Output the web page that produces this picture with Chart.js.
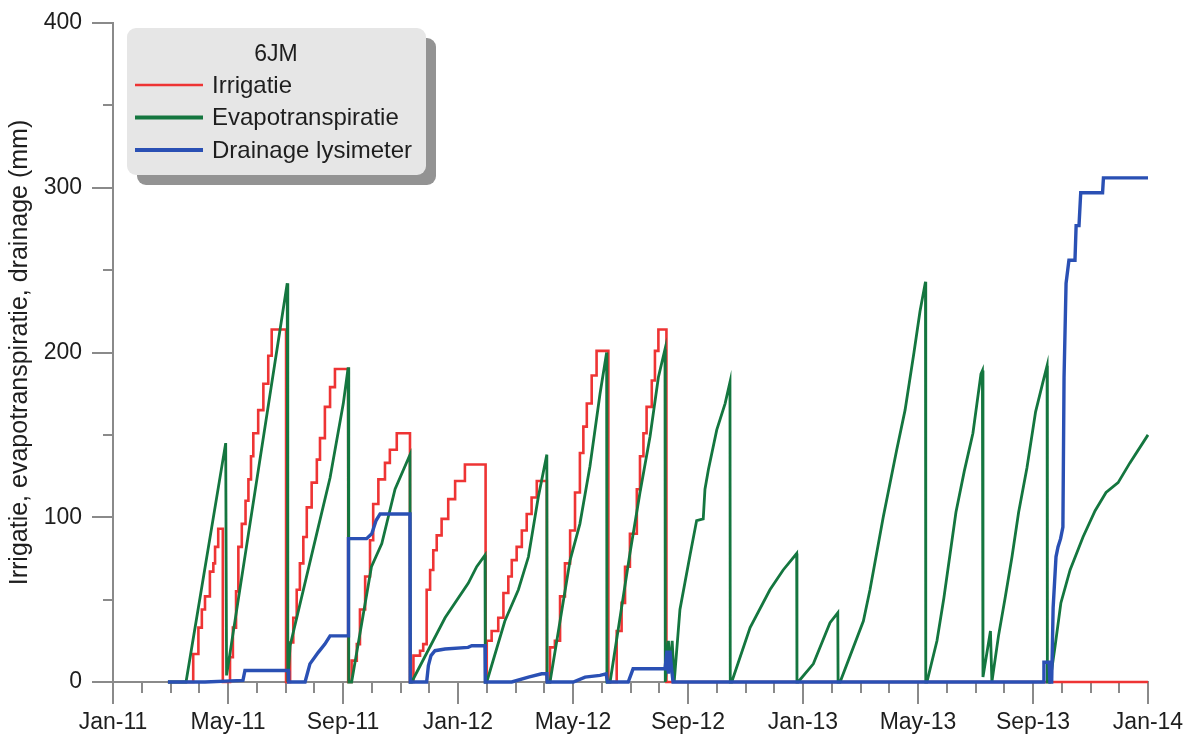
<!DOCTYPE html>
<html>
<head>
<meta charset="utf-8">
<script src="https://cdn.jsdelivr.net/npm/chart.js@4.4.0/dist/chart.umd.min.js"></script>
<style>
  html, body { margin: 0; padding: 0; background: #ffffff; }
  canvas { display: block; }
</style>
</head>
<body>
<canvas id="lysimeter" width="1198" height="744"></canvas>
<script>
// x values are months counted from 1 January 2011; y values are cumulative mm.
const xTickLabels = ['Jan-11', 'May-11', 'Sep-11', 'Jan-12', 'May-12', 'Sep-12', 'Jan-13', 'May-13', 'Sep-13', 'Jan-14'];
const monthsPerLabel = 4;
const yTitle = 'Irrigatie, evapotranspiratie, drainage (mm)';
const legendTitle = '6JM';

// Cumulative irrigation, reset at the end of each period (drawn as steps).
const irrigatie = [
  [1.91, 0], [2.79, 17], [2.97, 33], [3.09, 44], [3.20, 52], [3.37, 67], [3.49, 72], [3.55, 82], [3.66, 93], [3.82, 0],
  [4.07, 15], [4.17, 33], [4.28, 55], [4.36, 82], [4.48, 96], [4.61, 110], [4.71, 123], [4.80, 137], [4.88, 151],
  [5.05, 165], [5.23, 181], [5.40, 198], [5.52, 214], [6.02, 0],
  [6.16, 24], [6.27, 39], [6.39, 56], [6.50, 72], [6.62, 88], [6.74, 106], [6.91, 121], [7.09, 135], [7.20, 148],
  [7.37, 167], [7.55, 179], [7.72, 190], [8.18, 0],
  [8.30, 13], [8.48, 23], [8.59, 44], [8.77, 64], [8.94, 86], [9.05, 108], [9.23, 123], [9.46, 133], [9.63, 141],
  [9.87, 151], [10.33, 0],
  [10.45, 16], [10.68, 19], [10.79, 23], [10.91, 56], [11.03, 68], [11.14, 80], [11.26, 89], [11.43, 99], [11.66, 111],
  [11.90, 122], [12.24, 132], [12.96, 0],
  [13.00, 25], [13.17, 31], [13.40, 39], [13.58, 54], [13.75, 64], [13.87, 74], [14.04, 82], [14.22, 92], [14.39, 102],
  [14.56, 112], [14.74, 122], [15.09, 0],
  [15.20, 21], [15.37, 25], [15.55, 52], [15.72, 72], [15.90, 92], [16.07, 115], [16.24, 139], [16.36, 155], [16.48, 169],
  [16.65, 186], [16.82, 201], [17.23, 0],
  [17.52, 31], [17.69, 48], [17.81, 70], [17.98, 90], [18.22, 117], [18.33, 137], [18.45, 151], [18.56, 167], [18.74, 183],
  [18.85, 201], [18.97, 214], [19.25, 0],
  [36, 0]
];

// Cumulative evapotranspiration per period.
const evapotranspiratie = [
  [1.91, 0], [2.54, 0], [3.92, 145], [3.95, 4], [6.06, 242], [6.08, 0],
  [6.16, 22], [7.14, 94], [7.55, 124], [8.01, 169], [8.18, 191], [8.20, 0],
  [8.30, 0], [8.99, 70], [9.35, 84], [9.81, 117], [10.33, 138], [10.34, 0],
  [10.39, 0], [11.55, 39], [12.36, 60], [12.65, 70], [12.94, 77], [12.95, 0],
  [13.00, 0], [13.63, 37], [14.10, 56], [14.45, 76], [14.79, 112], [15.09, 138], [15.10, 0],
  [15.20, 0], [15.90, 74], [16.24, 96], [16.59, 131], [16.94, 175], [17.17, 200], [17.18, 0],
  [17.29, 0], [17.98, 78], [18.33, 115], [18.68, 149], [18.97, 185], [19.20, 202], [19.21, 0],
  [19.32, 25], [19.37, 8], [19.45, 25], [19.52, 0],
  [19.72, 44], [20.07, 77], [20.30, 98], [20.53, 99], [20.59, 117], [20.71, 129], [21.00, 153], [21.29, 169],
  [21.46, 182], [21.47, 0],
  [21.52, 0], [22.16, 33], [22.85, 56], [23.31, 68], [23.78, 78], [23.79, 0],
  [23.83, 0], [24.36, 11], [24.94, 36], [25.21, 42], [25.22, 0],
  [25.29, 0], [26.10, 37], [26.33, 56], [26.79, 100], [27.26, 141], [27.55, 165], [27.86, 200], [28.07, 225],
  [28.26, 243], [28.27, 0],
  [28.31, 0], [28.66, 25], [28.90, 51], [29.32, 103], [29.61, 128], [29.91, 151], [30.19, 187], [30.24, 189],
  [30.26, 3], [30.52, 31], [30.57, 0],
  [30.80, 28], [31.03, 51], [31.27, 76], [31.50, 103], [31.79, 130], [32.09, 164], [32.33, 181], [32.49, 192], [32.50, 0],
  [32.59, 0], [32.77, 22], [32.97, 48], [33.29, 68], [33.74, 88], [34.16, 104], [34.54, 115], [34.96, 121],
  [35.37, 133], [36, 150]
];

// Cumulative drainage measured in the lysimeter.
const drainage = [
  [1.91, 0], [3.20, 0], [4.52, 1], [4.59, 7], [6.10, 7], [6.11, 0],
  [6.68, 0], [6.85, 11], [7.14, 18], [7.37, 23], [7.55, 28], [8.18, 28], [8.19, 87], [8.82, 87], [9.00, 90],
  [9.15, 98], [9.29, 102], [10.33, 102], [10.34, 0],
  [10.91, 0], [10.97, 10], [11.06, 16], [11.20, 19], [11.55, 20], [12.35, 21], [12.48, 22], [12.94, 22], [12.95, 0],
  [13.87, 0], [14.45, 3], [14.91, 5], [15.09, 5], [15.10, 0],
  [16.01, 0], [16.42, 3], [16.94, 4], [17.15, 5], [17.20, 0],
  [17.92, 0], [18.09, 8], [19.20, 8], [19.27, 19], [19.32, 5], [19.37, 19], [19.43, 8], [19.48, 0],
  [32.35, 0], [32.38, 12], [32.56, 12], [32.59, 0], [32.65, 0], [32.70, 45], [32.80, 76], [32.87, 82],
  [32.96, 87], [33.04, 94], [33.08, 185], [33.15, 242], [33.25, 256], [33.46, 256], [33.50, 277], [33.60, 277],
  [33.66, 297], [34.42, 297], [34.45, 306], [36, 306]
];

const FONT = "'Liberation Sans', Arial, sans-serif";
const TEXT = '#1e1e1e';
const AXIS = '#8a8a8a';
const lastMonth = (xTickLabels.length - 1) * monthsPerLabel;

// Monthly tick marks on the x axis and 50 mm tick marks on the y axis.
const tickMarks = {
  id: 'tickMarks',
  beforeDatasetsDraw(chart) {
    const { ctx, chartArea: a, scales: { x, y } } = chart;
    ctx.save();
    ctx.strokeStyle = AXIS;
    ctx.lineWidth = 2;
    ctx.beginPath();
    for (let m = 0; m <= lastMonth; m++) {
      const px = Math.round(x.getPixelForValue(m));
      const len = m % monthsPerLabel === 0 ? 22 : 11;
      ctx.moveTo(px, a.bottom);
      ctx.lineTo(px, a.bottom + len);
    }
    for (let v = 0; v <= y.max; v += 50) {
      const py = Math.round(y.getPixelForValue(v));
      const len = v % 100 === 0 ? 21 : 10;
      ctx.moveTo(a.left - len, py);
      ctx.lineTo(a.left, py);
    }
    ctx.stroke();
    ctx.restore();
  }
};

// Grey legend card with a drop shadow in the upper-left corner of the plot.
const legendCard = {
  id: 'legendCard',
  afterDraw(chart) {
    const ctx = chart.ctx;
    const bx = 127, by = 28, bw = 299, bh = 147, r = 9;
    ctx.save();
    ctx.fillStyle = '#939393';
    ctx.beginPath();
    ctx.roundRect(bx + 10, by + 10, bw, bh, r);
    ctx.fill();
    ctx.fillStyle = '#e6e6e6';
    ctx.beginPath();
    ctx.roundRect(bx, by, bw, bh, r);
    ctx.fill();

    ctx.fillStyle = TEXT;
    ctx.textBaseline = 'middle';
    ctx.font = '23px ' + FONT;
    ctx.textAlign = 'center';
    ctx.fillText(legendTitle, 276, 55);

    ctx.textAlign = 'left';
    ctx.font = '24px ' + FONT;
    const rows = [85, 117.5, 150];
    const widths = [2.5, 4, 4];
    chart.data.datasets.forEach((ds, i) => {
      ctx.strokeStyle = ds.borderColor;
      ctx.lineWidth = widths[i];
      ctx.beginPath();
      ctx.moveTo(135, rows[i]);
      ctx.lineTo(203, rows[i]);
      ctx.stroke();
      ctx.fillText(ds.label, 212, rows[i] + 1);
    });
    ctx.restore();
  }
};

new Chart(document.getElementById('lysimeter'), {
  type: 'line',
  data: {
    datasets: [
      { label: 'Irrigatie', data: irrigatie, borderColor: '#ee3434', borderWidth: 2.6, stepped: true, order: 3, clip: false },
      { label: 'Evapotranspiratie', data: evapotranspiratie, borderColor: '#14763f', borderWidth: 2.8, order: 2, clip: false },
      { label: 'Drainage lysimeter', data: drainage, borderColor: '#2a50b4', borderWidth: 3.4, order: 1, clip: false }
    ]
  },
  options: {
    responsive: false,
    devicePixelRatio: 1,
    animation: false,
    events: [],
    parsing: true,
    elements: {
      point: { radius: 0 },
      line: { tension: 0, borderCapStyle: 'butt', borderJoinStyle: 'miter' }
    },
    layout: { padding: { left: 0, right: 50, top: 23, bottom: 0 } },
    plugins: {
      legend: { display: false },
      tooltip: { enabled: false }
    },
    scales: {
      x: {
        type: 'linear',
        min: 0,
        max: lastMonth,
        afterFit(s) { s.height = 62; s.paddingLeft = 0; s.paddingRight = 0; },
        border: { display: true, color: AXIS, width: 2 },
        grid: { display: false, drawTicks: false },
        ticks: {
          stepSize: monthsPerLabel,
          autoSkip: false,
          maxRotation: 0,
          padding: 27,
          color: TEXT,
          font: { family: FONT, size: 23 },
          callback: v => xTickLabels[Math.round(v / monthsPerLabel)]
        }
      },
      y: {
        type: 'linear',
        min: 0,
        max: 400,
        afterFit(s) { s.width = 113; s.paddingTop = 0; s.paddingBottom = 0; },
        border: { display: true, color: AXIS, width: 2 },
        grid: { display: false, drawTicks: false },
        ticks: {
          stepSize: 100,
          padding: 31,
          color: TEXT,
          font: { family: FONT, size: 23 }
        },
        title: {
          display: true,
          text: yTitle,
          color: TEXT,
          font: { family: FONT, size: 25 },
          padding: { top: 5, bottom: 0 }
        }
      }
    }
  },
  plugins: [tickMarks, legendCard]
});
</script>
</body>
</html>
